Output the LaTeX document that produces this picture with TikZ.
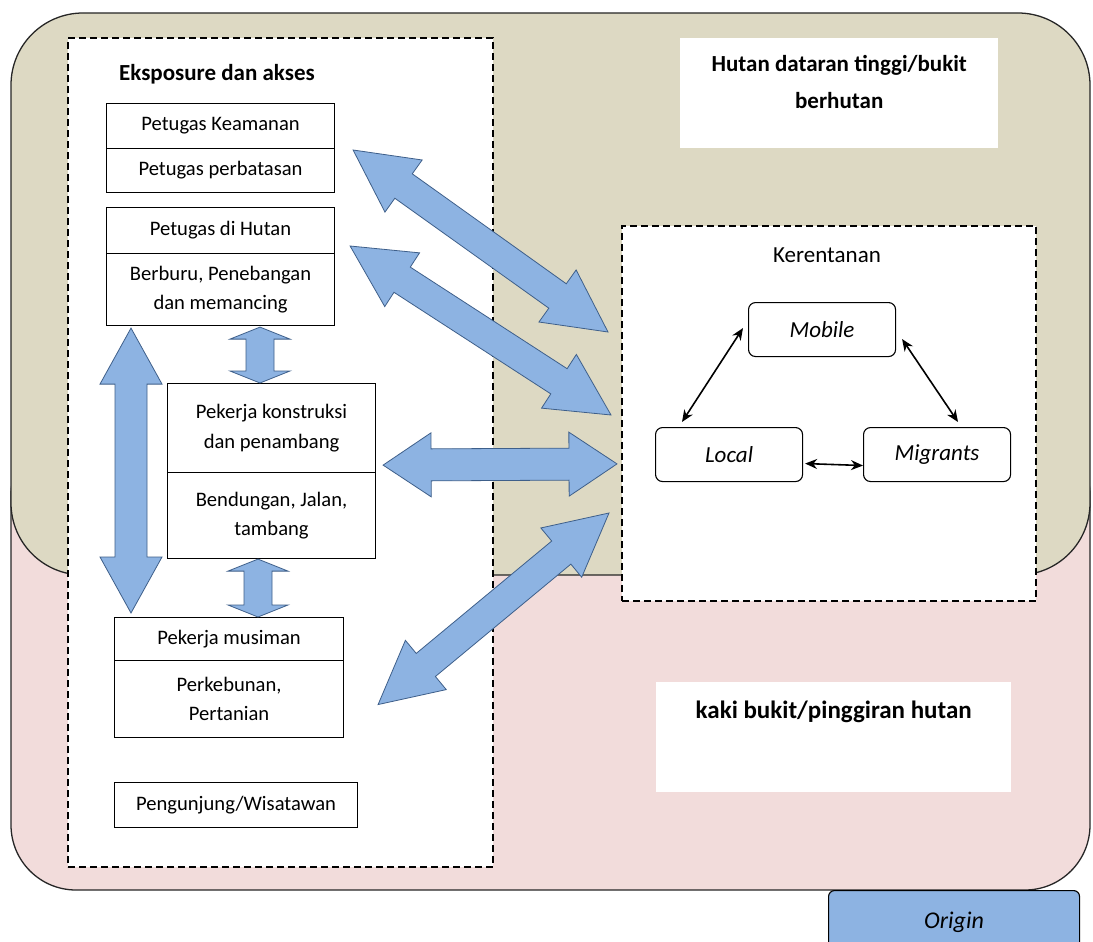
\documentclass[tikz,border=0pt]{standalone}
\usepackage{fontspec}
\setmainfont{Carlito}
\usetikzlibrary{calc,arrows.meta}

\definecolor{hillfill}{HTML}{DDD9C3}
\definecolor{edgefill}{HTML}{F2DCDB}
\definecolor{flowblue}{HTML}{8DB3E2}
\definecolor{flowedge}{HTML}{3E5F8A}

\newcommand\cellfont{\fontsize{20.6}{29.5}\selectfont}
\newcommand\headfont{\fontsize{23}{37}\selectfont\bfseries}
\newcommand\tagfont{\fontsize{23}{28}\selectfont\itshape}

% thick two-headed block arrow: start, end, shaft half-width, head half-width, head length
\newcommand\fatarrow[5]{%
  \coordinate (fa-p) at ($(#1)!#5!(#2)$);
  \coordinate (fa-q) at ($(#2)!#5!(#1)$);
  \filldraw[flowarrow] (#1)
    -- ($(fa-p)!#4!90:(#2)$) -- ($(fa-p)!#3!90:(#2)$)
    -- ($(fa-q)!#3!-90:(#1)$) -- ($(fa-q)!#4!-90:(#1)$)
    -- (#2)
    -- ($(fa-q)!#4!90:(#1)$) -- ($(fa-q)!#3!90:(#1)$)
    -- ($(fa-p)!#3!-90:(#2)$) -- ($(fa-p)!#4!-90:(#2)$)
    -- cycle;}

\begin{document}
\begin{tikzpicture}[x=1pt,y=-1pt,
  zone/.style={draw=black!85, line width=1.3},
  dashbox/.style={draw=black, fill=white, line width=1.8, dash pattern=on 7pt off 4pt,
    inner sep=0, anchor=north west},
  cell/.style={draw=black, line width=1.1, fill=white, inner sep=0, align=center,
    font=\cellfont, anchor=north west},
  tag/.style={draw=black, line width=1.1, fill=white, rounded corners=7, inner sep=0,
    minimum width=147, minimum height=54, font=\tagfont, anchor=north west},
  plate/.style={fill=white, inner sep=0, anchor=north west},
  flowarrow/.style={fill=flowblue, draw=flowedge, line width=0.8, line join=miter},
  link/.style={draw=black, line width=1.6, {Stealth[length=12pt,width=10pt]}-{Stealth[length=12pt,width=10pt]}}
]
\clip (0,0) rectangle (1093,942);

% landscape zones
\path[zone, fill=edgefill, rounded corners=65] (11,430) rectangle (1090,890);
\path[zone, fill=hillfill, rounded corners=72] (11,13) rectangle (1090,575);

% exposure and access panel
\node[dashbox, minimum width=425, minimum height=829] (expo) at (67,37) {};
\node[anchor=west, inner sep=0, font=\headfont] (expotitle) at (119,74) {Eksposure dan akses};

% vulnerability panel
\node[dashbox, minimum width=414, minimum height=375] (ker) at (621,225) {};
\node[inner sep=0, font=\fontsize{23}{28}\selectfont] (kertitle) at (827,255) {Kerentanan};

% zone labels
\node[plate, minimum width=318, minimum height=110] (hut) at (680,38) {};
\node[align=center, inner sep=0, font=\headfont] (huttext) at ($(hut.north)+(0,44)$)
  {Hutan dataran tinggi/bukit\\berhutan};
\node[plate, minimum width=355, minimum height=110] (kaki) at (656,682) {};
\node[inner sep=0, font=\fontsize{25}{30}\selectfont\bfseries] (kakitext) at ($(kaki.north)+(0,30)$)
  {kaki bukit/pinggiran hutan};

% origin tab
\node[draw=black, line width=1.1, fill=flowblue, rounded corners=6, inner sep=0,
  minimum width=251, minimum height=64, anchor=north west, font=\fontsize{24}{28}\selectfont\itshape]
  (origin) at (828,890) {Origin};

% actor groups
\node[cell, minimum width=228, minimum height=45] (pk) at (106,103) {Petugas Keamanan};
\node[cell, minimum width=228, minimum height=44] (pb) at (106,148) {Petugas perbatasan};
\node[cell, minimum width=228, minimum height=46] (ph) at (106,207) {Petugas di Hutan};
\node[cell, minimum width=228, minimum height=72] (bb) at (106,253) {Berburu, Penebangan\\dan memancing};
\node[cell, minimum width=208, minimum height=89] (kon) at (167,383) {Pekerja konstruksi\\dan penambang};
\node[cell, minimum width=208, minimum height=86] (ben) at (167,472) {Bendungan, Jalan,\\tambang};
\node[cell, minimum width=229, minimum height=43] (mus) at (114,617) {Pekerja musiman};
\node[cell, minimum width=229, minimum height=77] (keb) at (114,660) {Perkebunan,\\Pertanian};
\node[cell, minimum width=243, minimum height=45] (wis) at (114,782) {Pengunjung/Wisatawan};

% vulnerable groups
\node[tag] (mob) at (748,302) {Mobile};
\node[tag] (loc) at (655,427) {Local};
\node[tag] (mig) at (863,427) {Migrants};

\draw[link] ($(mob.west)+(-5,-1.5)$) -- ($(loc.north west)+(27,-5)$);
\draw[link] ($(mob.east)+(6,9.5)$) -- ($(mig.north west)+(95,-5)$);
\draw[link] ($(loc.east)+(2,9)$) -- ($(mig.west)+(0,11)$);

% block arrows between actors and vulnerability
\coordinate (v1s) at ($(bb.south west)+(25,2)$);
\coordinate (v1e) at ($(mus.north west)+(17,-4)$);
\fatarrow{v1s}{v1e}{16pt}{31pt}{56pt}

\coordinate (v2s) at ($(bb.south west)+(154,1)$);
\coordinate (v2e) at ($(kon.north west)+(93,0)$);
\fatarrow{v2s}{v2e}{14pt}{30pt}{12pt}

\coordinate (v3s) at ($(ben.south west)+(91,0)$);
\coordinate (v3e) at ($(mus.north west)+(144,0)$);
\fatarrow{v3s}{v3e}{14pt}{30pt}{12pt}

\coordinate (h1s) at ($(kon.south east)+(7,-8)$);
\coordinate (h1e) at ($(ker.west)+(-4,50.5)$);
\fatarrow{h1s}{h1e}{16pt}{32pt}{48pt}

\coordinate (d1s) at ($(pb.north east)+(18,2)$);
\coordinate (d1e) at ($(ker.north west)+(-13,107)$);
\fatarrow{d1s}{d1e}{15pt}{32pt}{62pt}

\coordinate (d2s) at ($(ph.north east)+(15,39)$);
\coordinate (d2e) at ($(ker.north west)+(-10,190)$);
\fatarrow{d2s}{d2e}{15pt}{32pt}{62pt}

\coordinate (d3s) at ($(keb.east)+(34,5.5)$);
\coordinate (d3e) at ($(ker.north west)+(-12,288)$);
\fatarrow{d3s}{d3e}{15pt}{32pt}{62pt}
\end{tikzpicture}
\end{document}
